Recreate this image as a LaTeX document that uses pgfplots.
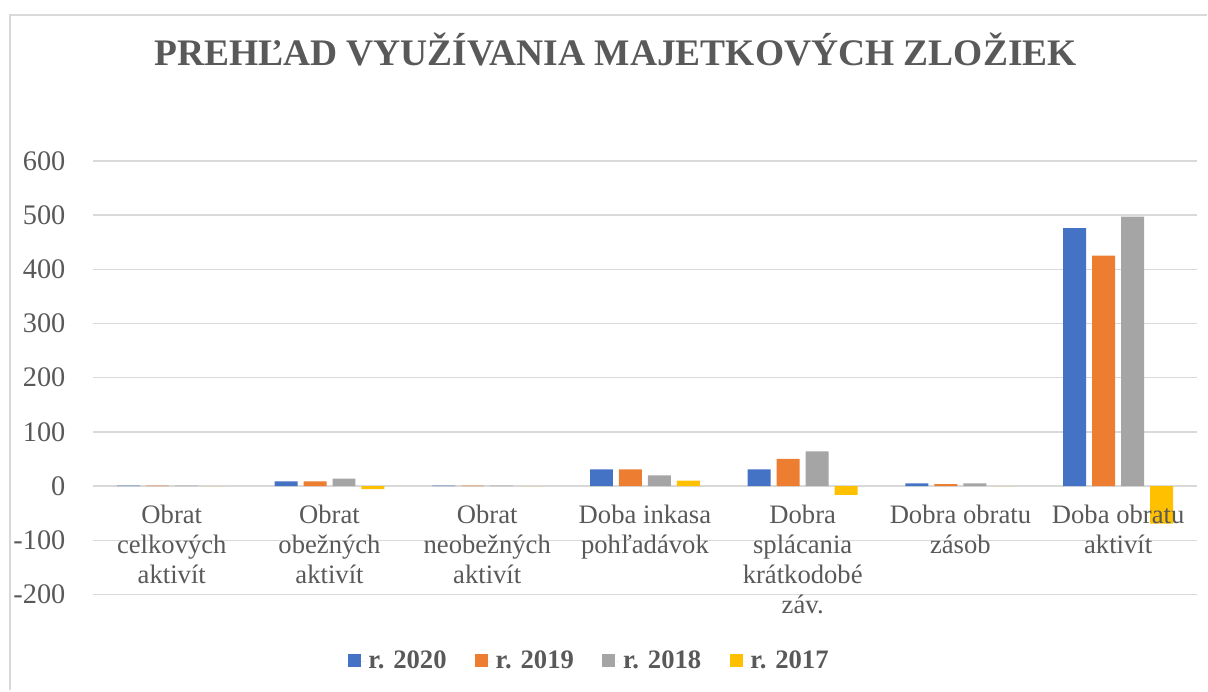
\documentclass[border=0pt]{standalone}
\usepackage{pgfplots}
\pgfplotsset{compat=1.18}
\usepackage{fontspec}
\setmainfont{Liberation Serif}
\definecolor{cblue}{HTML}{4472C4}
\definecolor{corange}{HTML}{ED7D31}
\definecolor{cgray}{HTML}{A5A5A5}
\definecolor{cyellow}{HTML}{FFC000}
\definecolor{txt}{HTML}{595959}
\definecolor{gridc}{HTML}{D9D9D9}
\begin{document}
\begin{tikzpicture}
\path (0pt,0pt) rectangle (724.8pt,414.6pt);
\draw[gridc,line width=1.2pt] (6pt,0pt) -- (6pt,405.6pt) -- (724.8pt,405.6pt);
\node[text=txt,font=\fontsize{22.5}{27}\selectfont\bfseries] at (369.6pt,384.6pt) {PREHĽAD VYUŽÍVANIA MAJETKOVÝCH ZLOŽIEK};
\begin{axis}[
  set layers=standard,
  at={(55.8pt,57.6pt)}, anchor=south west,
  scale only axis,
  width=663pt, height=260.4pt,
  ybar=3.6pt, bar width=13.8pt,
  xmin=-0.5, xmax=6.5,
  ymin=-200, ymax=600,
  ytick={-200,-100,...,600},
  xtick={0,...,6},
  xticklabels={{Obrat\\celkových\\aktivít},{Obrat\\obežných\\aktivít},{Obrat\\neobežných\\aktivít},{Doba inkasa\\pohľadávok},{Dobra\\splácania\\krátkodobé\\záv.},{Dobra obratu\\zásob},{Doba obratu\\aktivít}},
  x tick label style={align=center,font=\fontsize{16}{18}\selectfont,text=txt,yshift=57pt,anchor=north},
  y tick label style={font=\fontsize{17}{19}\selectfont,text=txt,xshift=-13pt},
  /pgf/number format/assume math mode=true,
  major tick length=0pt,
  axis line style={draw=none},
  ymajorgrids=true, xmajorgrids=false,
  y grid style={draw=gridc,line width=0.9pt},
  every axis plot/.append style={on layer=axis lines},
  legend style={at={(0.45,-0.154)},anchor=center,draw=none,fill=none,
    font=\fontsize{16}{18}\selectfont\bfseries,text=txt,
    legend columns=4,
    /tikz/every even column/.append style={column sep=15pt}},
  legend image code/.code={\fill[#1,draw=none] (0pt,-3.2pt) rectangle (7.8pt,4.6pt);\path (0pt,0pt) -- (10.5pt,0pt);},
  enlarge x limits=false,
]
\addplot[fill=cblue,draw=none] coordinates {(0,1) (1,8.6) (2,1) (3,31) (4,31) (5,5) (6,476)};
\addplot[fill=corange,draw=none] coordinates {(0,1) (1,8.6) (2,1) (3,31) (4,50) (5,3.7) (6,425)};
\addplot[fill=cgray,draw=none] coordinates {(0,1) (1,14) (2,1) (3,20) (4,64) (5,5) (6,497)};
\addplot[fill=cyellow,draw=none] coordinates {(0,0) (1,-5.5) (2,0) (3,10) (4,-16) (5,0) (6,-69)};
\legend{r. 2020,r. 2019,r. 2018,r. 2017}
\end{axis}
\end{tikzpicture}
\end{document}
